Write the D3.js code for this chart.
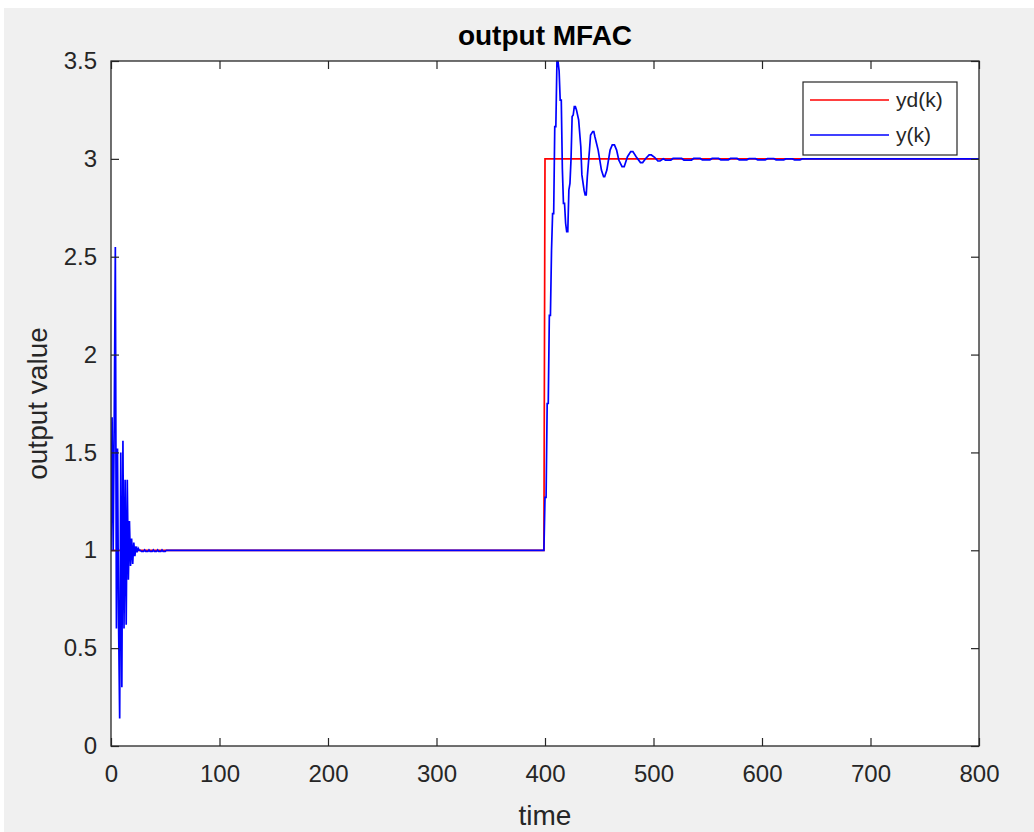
<!DOCTYPE html>
<html><head><meta charset="utf-8">
<script src="https://cdn.jsdelivr.net/npm/d3@7"></script>
<style>
html,body{margin:0;padding:0;background:#ffffff;}
svg{display:block;}
text{font-family:"Liberation Sans",Arial,Helvetica,sans-serif;}
</style></head>
<body>
<script>
// ---- data ----
const titleText = "output MFAC";
const xLabel = "time";
const yLabel = "output value";
const xTicks = [0,100,200,300,400,500,600,700,800];
const yTicks = [0,0.5,1,1.5,2,2.5,3,3.5];
const seriesNames = ["yd(k)", "y(k)"];
// desired output yd(k): [k, value]
const ydPoints = [[0,1],[399,1],[400,3],[800,3]];
// system output y(k): [k, value]
const yPoints = [
 [0,1.0],[1,1.68],[2,1.0],[3,1.68],[4,2.55],[5,0.60],[6,1.52],[7,0.62],[8,0.14],[9,1.50],
 [10,0.30],[11,1.56],[12,0.60],[13,1.36],[14,0.62],[15,1.36],[16,0.85],[17,1.15],[18,0.92],[19,1.06],
 [20,0.93],[21,1.04],[22,0.97],[23,1.02],[24,0.99],[25,1.01],[26,1.0],[27,1.0],
 [28,0.994],[30,0.994],[31,1.002],[32,0.994],[34,0.994],[35,1.002],[36,0.994],[38,0.994],[39,1.002],
 [40,0.994],[42,0.994],[43,1.002],[44,0.994],[46,0.994],[47,1.002],[48,0.994],[50,0.994],[51,1.0],
 [399,1.0],[400,1.27],[401,1.27],[402,1.75],[403,1.75],[404,2.2],[405,2.2],[406,2.53],[407,2.72],[408,2.72],
 [409,3.165],[410,3.165],[411,3.497],[412,3.497],[413,3.45],[414,3.30],[415,3.30],[416,2.95],[417,2.773],[418,2.773],
 [419,2.671],[420,2.628],[421,2.628],[422,2.841],[423,2.875],[424,3.0],[425,3.216],[426,3.224],[427,3.267],[428,3.267],
 [429,3.25],[431,3.199],[433,3.062],[434,2.918],[436,2.84],[437,2.816],[438,2.816],[439,2.909],[441,3.045],[442,3.122],
 [444,3.139],[445,3.139],[446,3.113],[449,3.045],[452,2.943],[454,2.909],[455,2.909],[457,2.943],[460,3.045],[462,3.071],
 [464,3.071],[466,3.045],[468,2.994],[471,2.96],[473,2.96],[476,3.011],[479,3.037],[481,3.037],[484,3.011],[488,2.981],
 [490,2.981],[493,3.003],[496,3.02],[498,3.02],[501,3.008],[504,2.989],[506,2.989],[509,3.0],
 [511,2.994],[516,2.994],[518,3.002],[526,3.002],[528,2.994],[535,2.994],[537,3.002],[543,3.002],[545,2.995],[552,2.995],
 [554,3.002],[560,3.002],[562,2.995],[569,2.995],[571,3.002],[577,3.002],[579,2.995],[586,2.995],[588,3.001],[594,3.001],
 [596,2.995],[603,2.995],[605,3.001],[611,3.001],[613,2.995],[620,2.995],[622,3.0],[628,3.0],[630,2.995],[635,2.995],
 [637,3.0],[800,3.0]
];
const seriesColors = ["#ff0000", "#0000ff"];

// ---- layout ----
const W = 1034, H = 832;
const plot = {left:111, right:979, top:61, bottom:746};
const axisColor = "#262626";

const svg = d3.select("body").append("svg").attr("width",W).attr("height",H);
svg.append("rect").attr("x",4).attr("y",8).attr("width",W-4).attr("height",H-8).attr("fill","#f0f0f0");
svg.append("rect").attr("x",plot.left).attr("y",plot.top)
  .attr("width",plot.right-plot.left).attr("height",plot.bottom-plot.top).attr("fill","#ffffff");

const x = d3.scaleLinear().domain([0,800]).range([plot.left,plot.right]);
const y = d3.scaleLinear().domain([0,3.5]).range([plot.bottom,plot.top]);

svg.append("clipPath").attr("id","clip").append("rect")
  .attr("x",plot.left).attr("y",plot.top-1).attr("width",plot.right-plot.left).attr("height",plot.bottom-plot.top+2);

const line = d3.line().x(d=>x(d[0])).y(d=>y(d[1]));
const g = svg.append("g").attr("clip-path","url(#clip)");
g.append("path").datum(ydPoints).attr("d",line).attr("fill","none")
  .attr("stroke",seriesColors[0]).attr("stroke-width",1.7);
g.append("path").datum(yPoints).attr("d",line).attr("fill","none")
  .attr("stroke",seriesColors[1]).attr("stroke-width",1.7).attr("stroke-linejoin","miter");

// axes (ticks inward, box)
const tickLen = 8;
const fontTick = 24;
const xAxisB = d3.axisBottom(x).tickValues(xTicks).tickSizeInner(-tickLen).tickSizeOuter(0).tickPadding(19).tickFormat(d3.format("d"));
const xAxisT = d3.axisTop(x).tickValues(xTicks).tickSizeInner(-tickLen).tickSizeOuter(0).tickFormat("");
const yAxisL = d3.axisLeft(y).tickValues(yTicks).tickSizeInner(-tickLen).tickSizeOuter(0).tickPadding(14).tickFormat(d=>d3.format("")(d));
const yAxisR = d3.axisRight(y).tickValues(yTicks).tickSizeInner(-tickLen).tickSizeOuter(0).tickFormat("");

function style(sel){
  sel.select(".domain").remove();
  sel.selectAll(".tick line").attr("stroke",axisColor).attr("stroke-width",1.2);
  sel.selectAll(".tick text").attr("fill",axisColor).style("font-size",fontTick+"px");
}
svg.append("g").attr("transform",`translate(0,${plot.bottom})`).call(xAxisB).call(style);
svg.append("g").attr("transform",`translate(0,${plot.top})`).call(xAxisT).call(style);
svg.append("g").attr("transform",`translate(${plot.left},0)`).call(yAxisL).call(style);
svg.append("g").attr("transform",`translate(${plot.right},0)`).call(yAxisR).call(style);

svg.append("rect").attr("x",plot.left).attr("y",plot.top)
  .attr("width",plot.right-plot.left).attr("height",plot.bottom-plot.top)
  .attr("fill","none").attr("stroke",axisColor).attr("stroke-width",1.3);

// title and labels
svg.append("text").attr("x",(plot.left+plot.right)/2).attr("y",45).attr("text-anchor","middle")
  .style("font-size","28px").style("font-weight","bold").attr("fill","#000").text(titleText);
svg.append("text").attr("x",(plot.left+plot.right)/2).attr("y",825).attr("text-anchor","middle")
  .style("font-size","28px").attr("fill",axisColor).text(xLabel);
svg.append("text").attr("transform",`translate(47,${(plot.top+plot.bottom)/2}) rotate(-90)`).attr("text-anchor","middle")
  .style("font-size","28px").attr("fill",axisColor).text(yLabel);

// legend
const lg = svg.append("g");
lg.append("rect").attr("x",803).attr("y",82).attr("width",154).attr("height",73)
  .attr("fill","#ffffff").attr("stroke",axisColor).attr("stroke-width",1.2);
seriesNames.forEach((n,i)=>{
  const yy = 100 + i*35;
  lg.append("line").attr("x1",810).attr("x2",889).attr("y1",yy).attr("y2",yy)
    .attr("stroke",seriesColors[i]).attr("stroke-width",1.7);
  lg.append("text").attr("x",896).attr("y",yy+7).style("font-size","21px").attr("fill",axisColor).text(n);
});
</script>
</body></html>
